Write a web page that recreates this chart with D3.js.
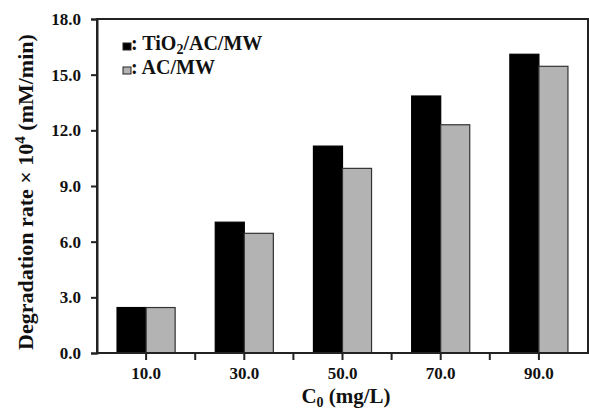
<!DOCTYPE html>
<html>
<head>
<meta charset="utf-8">
<script src="https://cdn.jsdelivr.net/npm/d3@7"></script>
<style>
  body { margin: 0; background: #fff; }
  svg { display: block; }
  text { font-family: "Liberation Serif", "Times New Roman", serif; font-weight: bold; }
</style>
</head>
<body>
<svg id="chart" width="589" height="409"></svg>
<script>
// data
var categories = ["10.0", "30.0", "50.0", "70.0", "90.0"];
var series = ["TiO2/AC/MW", "AC/MW"];
var tio2 = [2.45, 7.05, 11.15, 13.85, 16.1];
var ac = [2.45, 6.45, 9.95, 12.3, 15.45];
var yTicks = [0, 3, 6, 9, 12, 15, 18];

var colors = { "TiO2/AC/MW": "#000", "AC/MW": "#b3b3b3" };

var svg = d3.select("#chart")
var margin = {top: 19, left: 97, bottom: 56, right: 1}
var width = 589, height = 409

var rows = categories.map(function(c, i) {
  return { cat: c, vals: [ {s: series[0], v: tio2[i]}, {s: series[1], v: ac[i]} ] }
})

var x = d3.scaleBand()
  .domain(categories)
  .range([margin.left, width - margin.right])
  .paddingInner(0).paddingOuter(0)

var x1 = d3.scaleBand()
  .domain(series)
  .range([0, x.bandwidth()])
  .paddingInner(0).paddingOuter(0.69)

var y = d3.scaleLinear()
  .domain([0, 18])
  .range([height - margin.bottom, margin.top])

// bars
var g = svg.append("g")
g.selectAll("g.grp")
  .data(rows)
  .enter().append("g")
    .attr("class", "grp")
    .attr("transform", function(d) { return "translate(" + x(d.cat) + ",0)" })
  .selectAll("rect")
  .data(function(d) { return d.vals })
  .enter().append("rect")
    .attr("x", function(d) { return x1(d.s) })
    .attr("width", x1.bandwidth())
    .attr("y", function(d) { return y(d.v) })
    .attr("height", function(d) { return y(0) - y(d.v) })
    .attr("fill", function(d) { return colors[d.s] })
    .attr("stroke", function(d) { return d.s == "AC/MW" ? "#333" : "#000" })
    .attr("stroke-width", 1.2)

// frame
svg.append("rect")
  .attr("x", margin.left).attr("y", margin.top)
  .attr("width", width - margin.right - margin.left)
  .attr("height", y(0) - margin.top)
  .attr("fill", "none").attr("stroke", "#222").attr("stroke-width", 2)

// y axis
var yAxis = svg.append("g")
  .attr("transform", "translate(" + margin.left + ",0)")
  .call(d3.axisLeft(y).tickValues(yTicks).tickFormat(d3.format(".1f")).tickSize(6).tickPadding(10))
yAxis.select(".domain").attr("stroke", "#222").attr("stroke-width", 2)
yAxis.selectAll(".tick line").attr("stroke", "#222").attr("stroke-width", 2)
yAxis.selectAll("text").attr("font-size", 17).attr("fill", "#111")
  .style("font-family", "Liberation Serif").style("font-weight", "bold")

// x axis (labels at centres)
var xAxis = svg.append("g")
  .attr("transform", "translate(0," + y(0) + ")")
  .call(d3.axisBottom(x).tickSize(7).tickPadding(7))
xAxis.select(".domain").remove()
xAxis.selectAll(".tick line").attr("stroke", "#222").attr("stroke-width", 2)
xAxis.selectAll("text").attr("font-size", 17).attr("fill", "#111")
  .style("font-family", "Liberation Serif").style("font-weight", "bold")

// extra ticks at category boundaries
var bounds = categories.map(function(c) { return x(c) }).concat([x.range()[1]])
xAxis.selectAll("line.bnd")
  .data(bounds.slice(1, -1))
  .enter().append("line")
    .attr("class", "bnd")
    .attr("x1", function(d) { return d }).attr("x2", function(d) { return d })
    .attr("y1", 0).attr("y2", 7)
    .attr("stroke", "#222").attr("stroke-width", 2)

// axis titles
var yt = svg.append("text")
  .attr("transform", "translate(33,192)rotate(-90)")
  .attr("text-anchor", "middle")
  .attr("font-size", 22)
  .attr("fill", "#111")
yt.append("tspan").text("Degradation rate \u00d7 10")
yt.append("tspan").attr("dy", -8).attr("font-size", 15).text("4")
yt.append("tspan").attr("dy", 8).text(" (mM/min)")

var xt = svg.append("text")
  .attr("x", 346)
  .attr("y", 403)
  .attr("text-anchor", "middle")
  .attr("font-size", 21)
  .attr("fill", "#111")
xt.append("tspan").text("C")
xt.append("tspan").attr("dy", 4).attr("font-size", 14).text("0")
xt.append("tspan").attr("dy", -4).text(" (mg/L)")

// legend
var leg = svg.append("g").attr("transform", "translate(123,40)")
var li = leg.selectAll("g")
  .data(series)
  .enter().append("g")
    .attr("transform", function(d, i) { return "translate(0," + (i * 24) + ")" })
li.append("rect")
  .attr("width", 8).attr("height", 7).attr("y", 3)
  .attr("fill", function(d) { return colors[d] })
  .attr("stroke", "#222").attr("stroke-width", 1)
var lt = li.append("text")
  .attr("x", 8).attr("y", 10)
  .attr("font-size", 20)
  .attr("fill", "#111")
lt.each(function(d) {
  var t = d3.select(this)
  if (d == "TiO2/AC/MW") {
    t.append("tspan").text(": TiO")
    t.append("tspan").attr("dy", 4).attr("font-size", 14).text("2")
    t.append("tspan").attr("dy", -4).text("/AC/MW")
  } else {
    t.text(": " + d)
  }
})
</script>
</body>
</html>
